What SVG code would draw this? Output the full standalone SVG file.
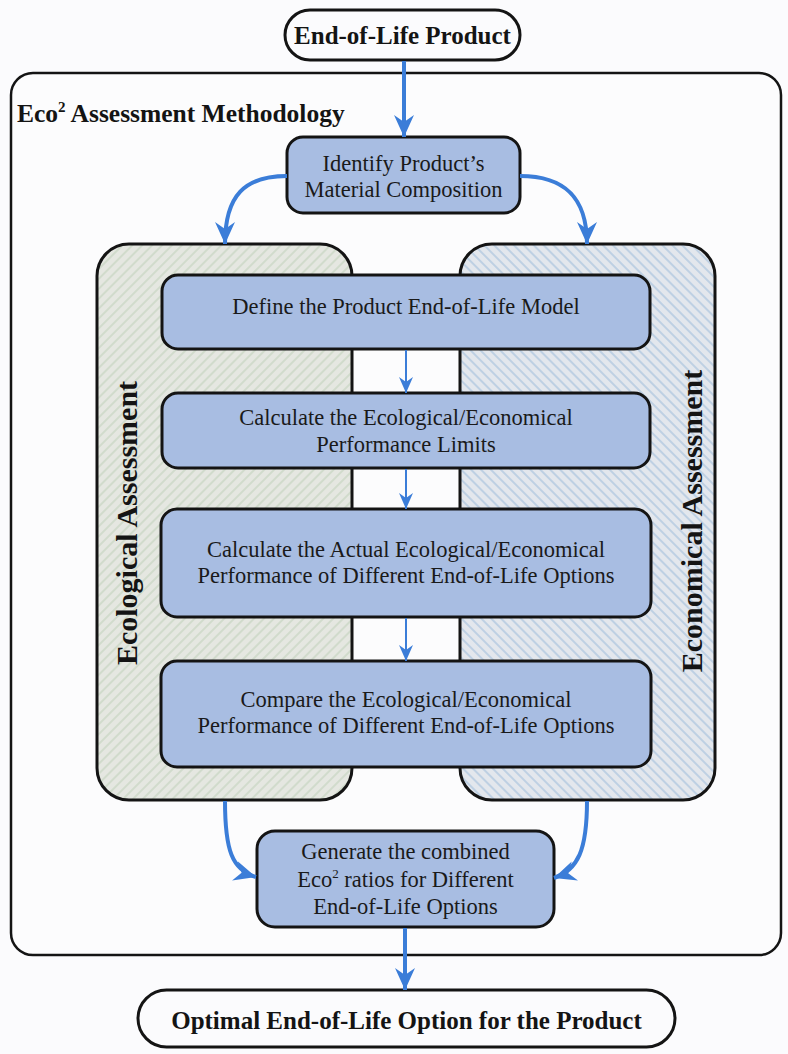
<svg xmlns="http://www.w3.org/2000/svg" width="788" height="1054" viewBox="0 0 788 1054">
<style>
.box{fill:#a8bde2;stroke:#141414;stroke-width:3}
.pill{fill:#fbfbfd;stroke:#141414;stroke-width:3}
.t{font-family:"Liberation Serif","Times New Roman",serif;font-size:22.5px;fill:#1a1a1a;text-anchor:middle}
.b{font-family:"Liberation Serif","Times New Roman",serif;font-weight:bold;fill:#141414}
.conn{fill:none;stroke:#3b7dd8;stroke-width:4}
.conn-s{fill:none;stroke:#3b7dd8;stroke-width:2}
</style>
<defs>
<pattern id="hatchL" width="7" height="7" patternUnits="userSpaceOnUse" patternTransform="rotate(45)">
<rect width="7" height="7" fill="#e5e7e1"/>
<line x1="1" y1="0" x2="1" y2="7" stroke="#cbd8c6" stroke-width="1.5"/>
</pattern>
<pattern id="hatchR" width="7" height="7" patternUnits="userSpaceOnUse" patternTransform="rotate(-45)">
<rect width="7" height="7" fill="#e3e7ed"/>
<line x1="1" y1="0" x2="1" y2="7" stroke="#b2c9e0" stroke-width="1.5"/>
</pattern>
<marker id="ah" markerWidth="24" markerHeight="22" refX="22" refY="11" orient="auto" markerUnits="userSpaceOnUse">
<path d="M0,1 L22,11 L0,21 L7,11 z" fill="#3b7dd8"/>
</marker>
<marker id="ahs" markerWidth="18" markerHeight="16" refX="16" refY="8" orient="auto" markerUnits="userSpaceOnUse">
<path d="M0,1 L16,8 L0,15 L5,8 z" fill="#3b7dd8"/>
</marker>
</defs>
<rect width="788" height="1054" fill="#fbfbfd"/>

<g id="methodology">
<rect x="11" y="73" width="770" height="882" rx="22" fill="#fcfcfd" stroke="#141414" stroke-width="2.5"/>
<text class="b" x="17" y="122" font-size="25.5">Eco<tspan font-size="15" dy="-10">2</tspan><tspan dy="10"> Assessment Methodology</tspan></text>
</g>

<g id="ecological-panel">
<rect x="97" y="244" width="255" height="556" rx="32" fill="url(#hatchL)" stroke="#141414" stroke-width="3"/>
<text class="b" x="137" y="523" font-size="30" text-anchor="middle" transform="rotate(-90 137 523)">Ecological Assessment</text>
</g>

<g id="economical-panel">
<rect x="460" y="244" width="255" height="556" rx="32" fill="url(#hatchR)" stroke="#141414" stroke-width="3"/>
<text class="b" x="702" y="521" font-size="30" text-anchor="middle" transform="rotate(-90 702 521)">Economical Assessment</text>
</g>

<g id="end-of-life-product">
<rect class="pill" x="285" y="10" width="235" height="50" rx="25"/>
<text class="b" x="402.5" y="43.5" font-size="25" text-anchor="middle">End-of-Life Product</text>
</g>

<g id="identify">
<rect class="box" x="287" y="137" width="233" height="76" rx="16"/>
<text class="t" x="403.5" y="171">Identify Product’s</text>
<text class="t" x="403.5" y="197">Material Composition</text>
</g>

<g id="define">
<rect class="box" x="162" y="275" width="488" height="74" rx="16"/>
<text class="t" x="406" y="314">Define the Product End-of-Life Model</text>
</g>

<g id="limits">
<rect class="box" x="162" y="393" width="488" height="75" rx="16"/>
<text class="t" x="406" y="425">Calculate the Ecological/Economical</text>
<text class="t" x="406" y="452">Performance Limits</text>
</g>

<g id="actual">
<rect class="box" x="161" y="509" width="490" height="108" rx="16"/>
<text class="t" x="406" y="557">Calculate the Actual Ecological/Economical</text>
<text class="t" x="406" y="583">Performance of Different End-of-Life Options</text>
</g>

<g id="compare">
<rect class="box" x="161" y="661" width="490" height="106" rx="16"/>
<text class="t" x="406" y="707">Compare the Ecological/Economical</text>
<text class="t" x="406" y="733">Performance of Different End-of-Life Options</text>
</g>

<g id="generate">
<rect class="box" x="257" y="831" width="297" height="96" rx="18"/>
<text class="t" x="405.5" y="859">Generate the combined</text>
<text class="t" x="405.5" y="887">Eco<tspan font-size="13" dy="-9">2</tspan><tspan dy="9"> ratios for Different</tspan></text>
<text class="t" x="405.5" y="914">End-of-Life Options</text>
</g>

<g id="optimal">
<rect class="pill" x="138" y="990" width="537" height="57" rx="28.5"/>
<text class="b" x="406.5" y="1029" font-size="25" text-anchor="middle">Optimal End-of-Life Option for the Product</text>
</g>

<g id="connectors">
<path class="conn" d="M404,61 L404,137" marker-end="url(#ah)"/>
<path class="conn" d="M287,176 C245,176 225,195 225,244" marker-end="url(#ah)"/>
<path class="conn" d="M520,176 C562,176 587,195 587,244" marker-end="url(#ah)"/>
<path class="conn-s" d="M406,350 L406,393" marker-end="url(#ahs)"/>
<path class="conn-s" d="M406,469 L406,509" marker-end="url(#ahs)"/>
<path class="conn-s" d="M406,618 L406,661" marker-end="url(#ahs)"/>
<path class="conn" d="M225,801 C225,850 232,870 256,877" marker-end="url(#ah)"/>
<path class="conn" d="M587,801 C587,850 578,870 554,878" marker-end="url(#ah)"/>
<path class="conn" d="M405,928 L405,990" marker-end="url(#ah)"/>
</g>
</svg>
